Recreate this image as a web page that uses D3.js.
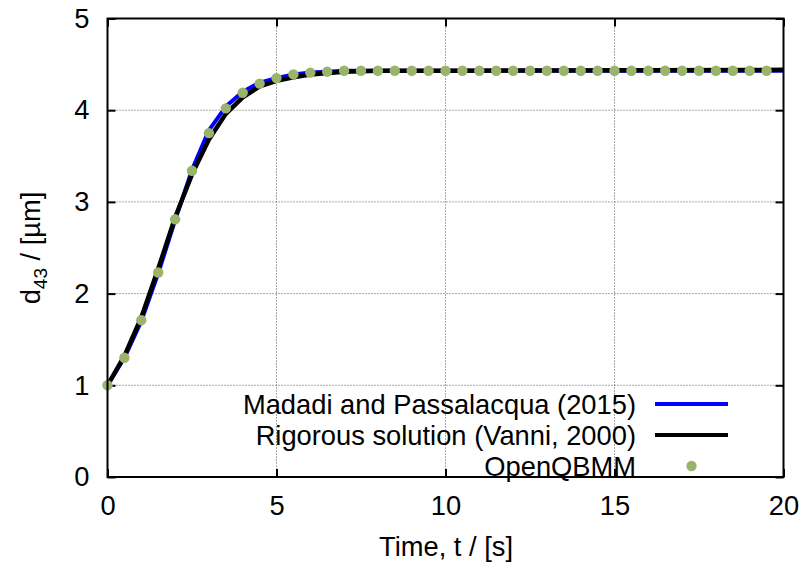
<!DOCTYPE html>
<html><head><meta charset="utf-8">
<script src="https://cdn.jsdelivr.net/npm/d3@7"></script>
<style>body{margin:0;background:#fff}svg{display:block}text{font-family:"Liberation Sans",Arial,sans-serif;fill:#000}</style>
</head><body>
<script>
const xTicks=[0,5,10,15,20];
const yTicks=[0,1,2,3,4,5];
// Madadi and Passalacqua (2015)
const blueT=[0,0.5,1,1.5,2,2.5,3,3.5,4,4.5,5,5.5,6,6.5,7,8,10,20];
const blueV=[1,1.30,1.70,2.22,2.80,3.35,3.78,4.04,4.20,4.30,4.35,4.39,4.41,4.42,4.43,4.43,4.43,4.43];
// Rigorous solution (Vanni, 2000)
const blackT=[0,0.5,1,1.5,2,2.5,3,3.5,4,4.5,5,5.5,6,7,8,10,20];
const blackV=[1,1.32,1.74,2.27,2.83,3.30,3.68,3.96,4.14,4.26,4.32,4.36,4.39,4.42,4.43,4.43,4.44];
// OpenQBMM
const qT=[0,0.5,1,1.5,2,2.5,3,3.5,4,4.5,5,5.5,6,6.5,7,7.5,8,8.5,9,9.5,10,10.5,11,11.5,12,12.5,13,13.5,14,14.5,15,15.5,16,16.5,17,17.5,18,18.5,19,19.5];
const qV=[1,1.30,1.71,2.23,2.81,3.34,3.75,4.02,4.19,4.29,4.35,4.39,4.41,4.42,4.43,4.43,4.43,4.43,4.43,4.43,4.43,4.43,4.43,4.43,4.43,4.43,4.43,4.43,4.43,4.43,4.43,4.43,4.43,4.43,4.43,4.43,4.43,4.43,4.43,4.43];
const legendLabels=["Madadi and Passalacqua (2015)","Rigorous solution (Vanni, 2000)","OpenQBMM"];

const W=808,H=569,L=107.5,R=783.5,T=18.5,B=477;
const svg=d3.select("body").append("svg").attr("width",W).attr("height",H);
const x=d3.scaleLinear().domain([0,20]).range([L,R]);
const y=d3.scaleLinear().domain([0,5]).range([B,T]);

// grid
const g=svg.append("g");
g.selectAll(".gx").data(xTicks.slice(1,-1)).join("line")
 .attr("x1",d=>x(d)).attr("x2",d=>x(d)).attr("y1",T).attr("y2",B)
 .attr("stroke","#555").attr("stroke-width",1).attr("stroke-dasharray","1,2");
g.selectAll(".gy").data(yTicks.slice(1,-1)).join("line")
 .attr("x1",L).attr("x2",R).attr("y1",d=>y(d)).attr("y2",d=>y(d))
 .attr("stroke","#555").attr("stroke-width",1).attr("stroke-dasharray","1,2");

// axes with inward ticks, mirrored
const fs=27.3;
const fmt=d3.format("d");
const ax=svg.append("g").attr("transform",`translate(0,${B})`).call(d3.axisBottom(x).tickValues(xTicks).tickFormat(fmt).tickSize(-8).tickPadding(19));
const axT=svg.append("g").attr("transform",`translate(0,${T})`).call(d3.axisTop(x).tickValues(xTicks).tickSize(-8).tickFormat(""));
const ay=svg.append("g").attr("transform",`translate(${L},0)`).call(d3.axisLeft(y).tickValues(yTicks).tickFormat(fmt).tickSize(-8).tickPadding(18));
const ayR=svg.append("g").attr("transform",`translate(${R},0)`).call(d3.axisRight(y).tickValues(yTicks).tickSize(-8).tickFormat(""));
[ax,axT,ay,ayR].forEach(a=>{a.attr("font-size",fs).attr("font-family","Liberation Sans, Arial, sans-serif");a.select(".domain").remove();a.selectAll("line").attr("stroke","#000").attr("stroke-width",2);a.selectAll("text").style("font-size",fs+"px");});
ax.selectAll("text").attr("dy","0.71em").attr("y",19);

// curves
const line=d3.line().x(d=>x(d[0])).y(d=>y(d[1]));
const blueData=blueT.map((t,i)=>[t,blueV[i]]);
const blackData=blackT.map((t,i)=>[t,blackV[i]]);
svg.append("clipPath").attr("id","c").append("rect").attr("x",L).attr("y",T).attr("width",R-L).attr("height",B-T);
const pg=svg.append("g").attr("clip-path","url(#c)");
pg.append("path").datum(blueData).attr("d",line).attr("fill","none").attr("stroke","#0000ff").attr("stroke-width",4).attr("stroke-linejoin","round");
pg.append("path").datum(blackData).attr("d",line).attr("fill","none").attr("stroke","#000").attr("stroke-width",4.5).attr("stroke-linejoin","round");
svg.append("g").selectAll("circle").data(qT.map((t,i)=>[t,qV[i]])).join("circle")
 .attr("cx",d=>x(d[0])).attr("cy",d=>y(d[1])).attr("r",5.2).attr("fill","#9bb46b");

// frame
svg.append("rect").attr("x",L).attr("y",T).attr("width",R-L).attr("height",B-T).attr("fill","none").attr("stroke","#000").attr("stroke-width",2);

// legend
const leg=svg.append("g");
const rows=[404,435,466];
legendLabels.forEach((lab,i)=>{
  leg.append("text").attr("x",636).attr("y",rows[i]).attr("dy","0.35em").attr("text-anchor","end").style("font-size",fs+"px").text(lab);
});
leg.append("line").attr("x1",655).attr("x2",728).attr("y1",rows[0]).attr("y2",rows[0]).attr("stroke","#0000ff").attr("stroke-width",4);
leg.append("line").attr("x1",655).attr("x2",728).attr("y1",rows[1]).attr("y2",rows[1]).attr("stroke","#000").attr("stroke-width",4);
leg.append("circle").attr("cx",691.5).attr("cy",rows[2]).attr("r",5.2).attr("fill","#9bb46b");

// axis labels
svg.append("text").attr("x",446).attr("y",556).attr("text-anchor","middle").style("font-size",fs+"px").text("Time, t / [s]");
const yl=svg.append("text").attr("transform","translate(40,248) rotate(-90)").attr("text-anchor","middle").style("font-size",fs+"px");
yl.append("tspan").text("d");
yl.append("tspan").attr("dy",7).style("font-size","19px").text("43");
yl.append("tspan").attr("dy",-7).text(" / [µm]");
</script>
</body></html>
